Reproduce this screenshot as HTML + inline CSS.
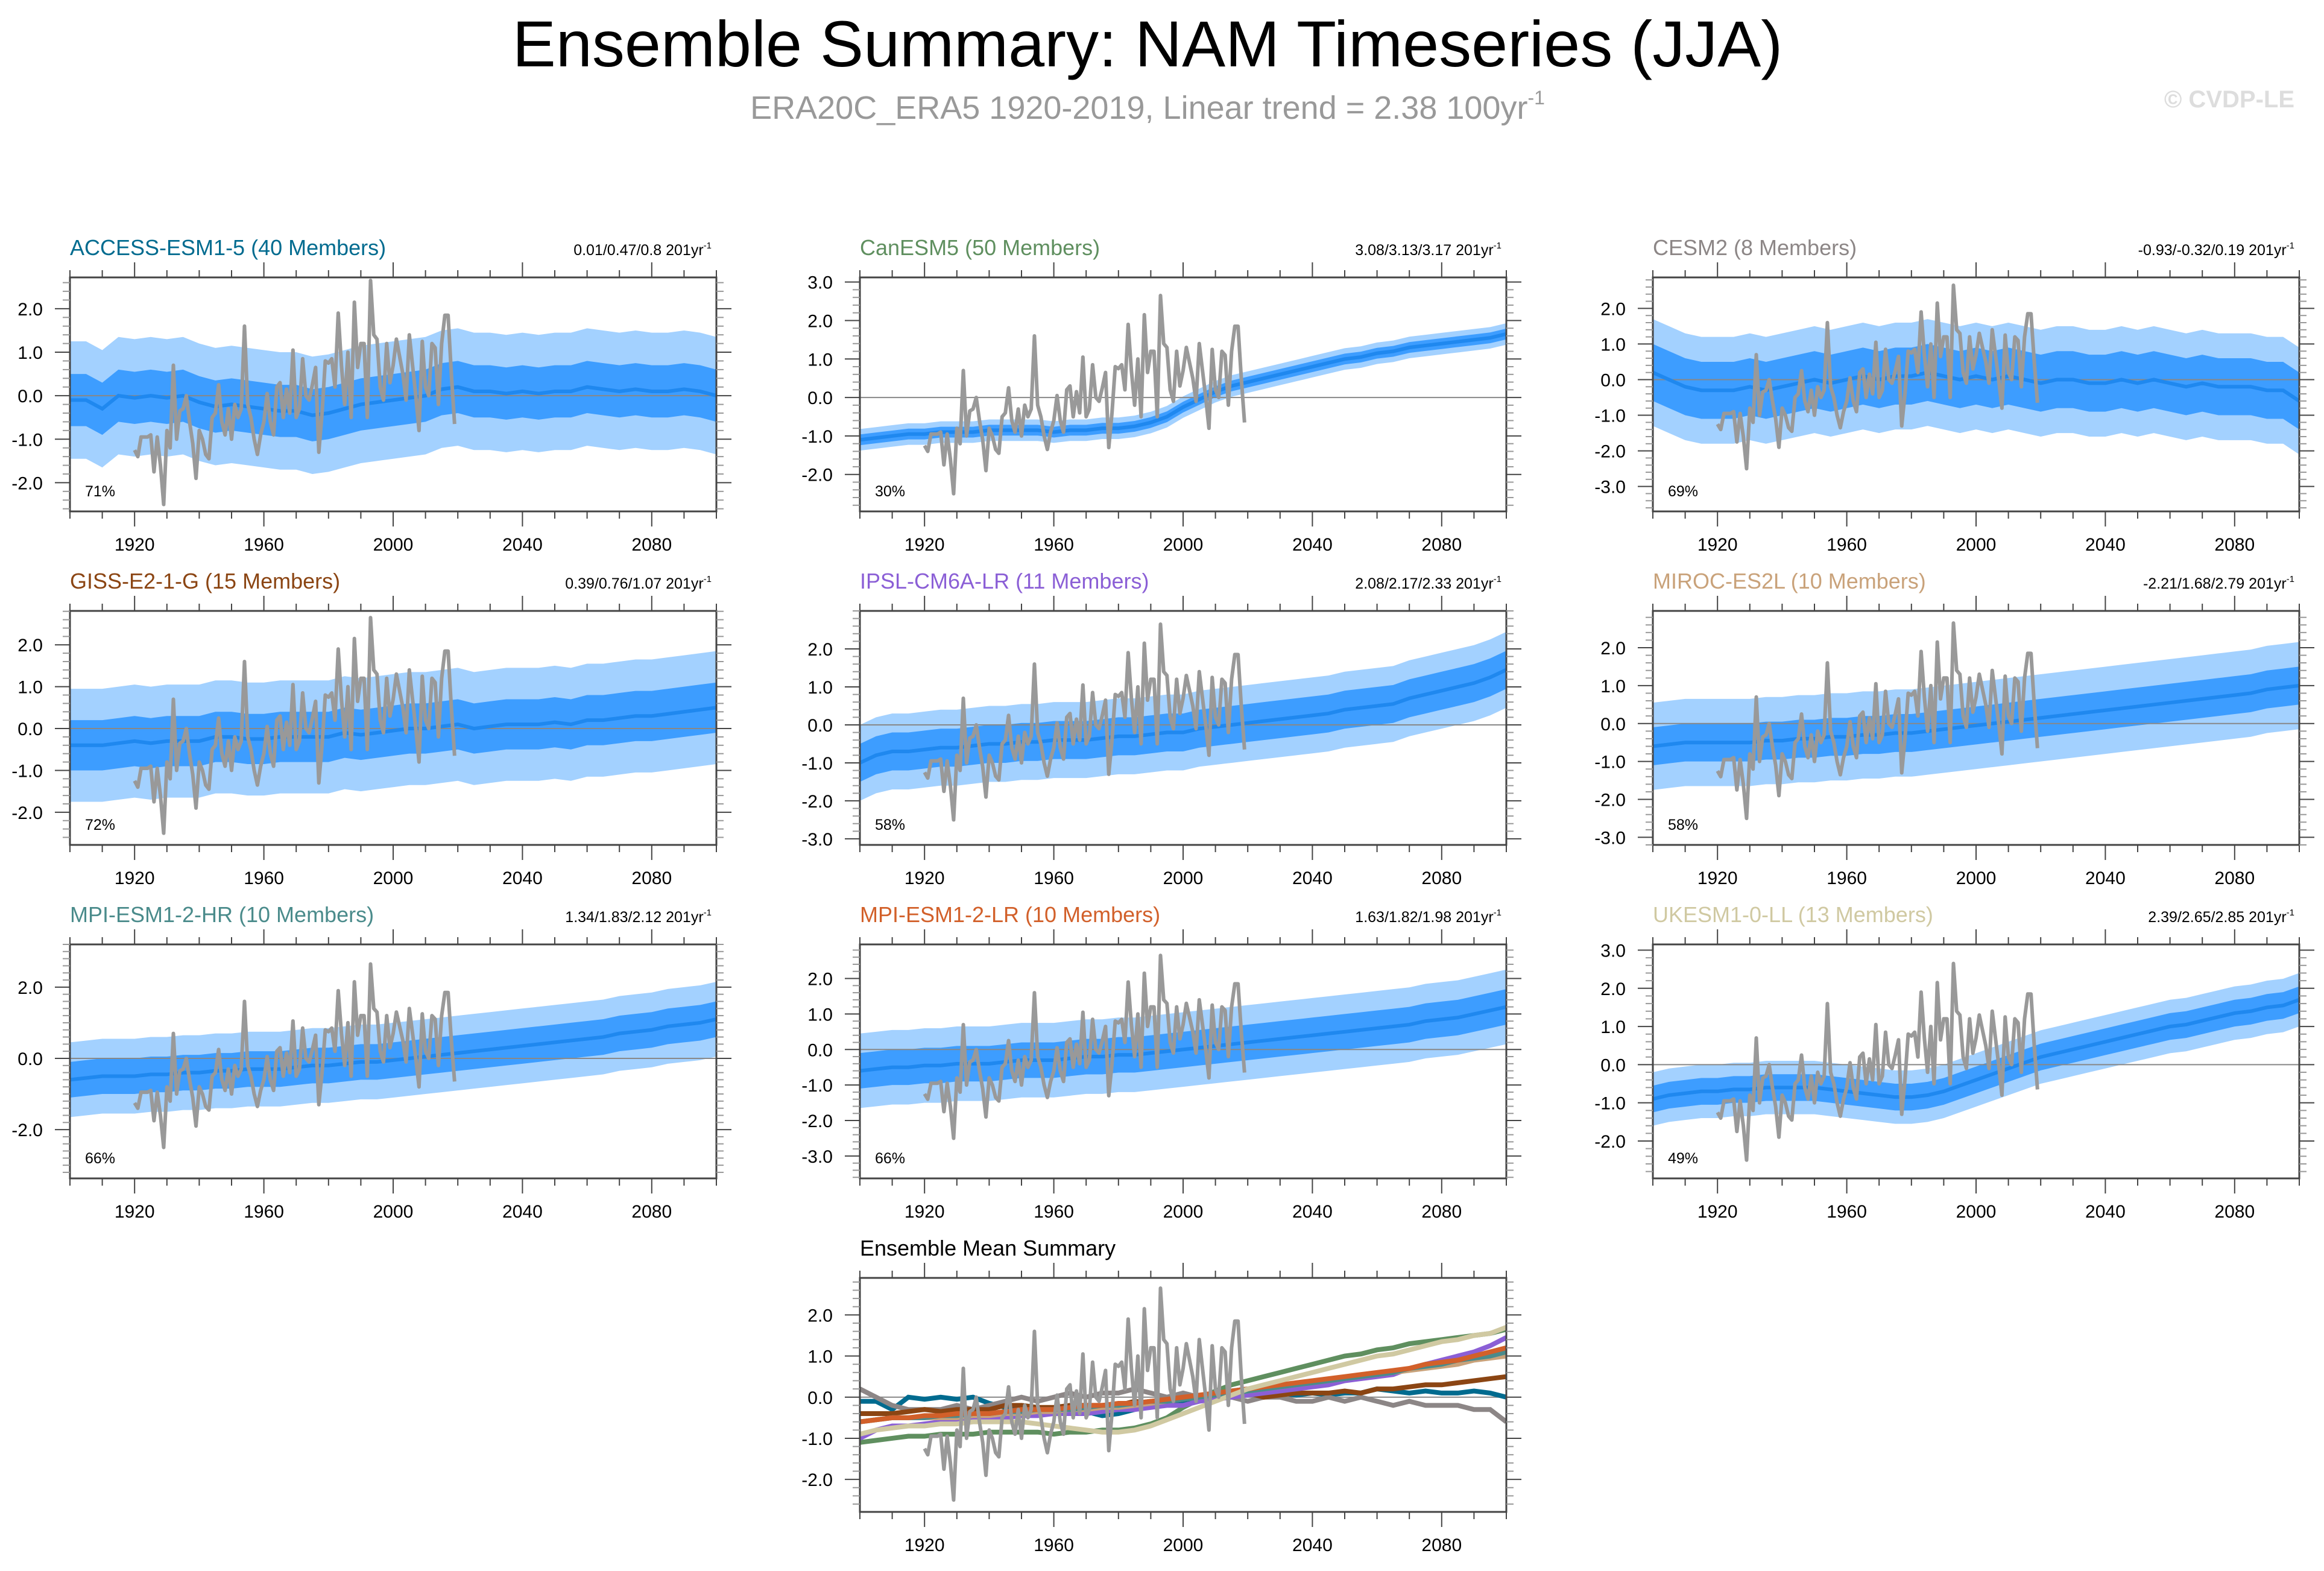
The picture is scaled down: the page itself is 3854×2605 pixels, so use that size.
<!DOCTYPE html>
<html><head><meta charset="utf-8">
<style>
html,body{margin:0;padding:0;background:#fff;}
svg{display:block;font-family:"Liberation Sans",sans-serif;}
</style></head>
<body>
<svg id="chart" width="3854" height="2605" viewBox="0 0 3854 2605" xmlns="http://www.w3.org/2000/svg">
<rect width="3854" height="2605" fill="#fff"/>
<text x="1903" y="110" font-size="108" text-anchor="middle" fill="#000">Ensemble Summary: NAM Timeseries (JJA)</text>
<text x="1903" y="197" font-size="54" text-anchor="middle" fill="#999">ERA20C_ERA5 1920-2019, Linear trend = 2.38 100yr<tspan font-size="32" dy="-24">-1</tspan></text>
<text x="3805" y="178" font-size="40" text-anchor="end" fill="#ddd" font-weight="bold">© CVDP-LE</text>
<g id="panels"></g>
</svg>
<script>
// ---------- data ----------
const obsYears0 = 1920;
const obsValues = [
-1.25,-1.4,-0.95,-0.95,-0.95,-0.9,-1.75,-0.95,-1.6,-2.5,
-0.8,-1.2,0.7,-1.0,-0.35,-0.3,0.0,-0.6,-1.1,-1.9,
-0.8,-1.0,-1.35,-1.45,-0.5,-0.4,0.25,-0.6,-0.9,-0.3,
-1.0,-0.2,-0.5,-0.3,1.6,-0.2,-0.5,-1.0,-1.35,-0.9,
-0.6,0.05,-0.6,-0.9,0.2,0.3,-0.5,0.15,-0.4,1.05,
-0.5,-0.3,0.85,0.0,-0.1,0.25,0.65,-1.3,-0.4,0.8,
0.75,0.85,0.2,1.9,0.7,-0.2,1.0,-0.5,2.15,0.65,
1.2,1.2,-0.5,2.65,1.4,1.3,0.2,-0.1,1.2,0.3,
0.7,1.3,0.9,0.5,-0.1,1.4,0.7,0.0,-0.8,1.25,
0.2,0.0,1.2,1.1,-0.2,1.2,1.85,1.85,0.5,-0.65];
const meanYearStart = 1900, meanYearStep = 5;
const modelNames = ["ACCESS-ESM1-5 (40 Members)","CanESM5 (50 Members)","CESM2 (8 Members)","GISS-E2-1-G (15 Members)","IPSL-CM6A-LR (11 Members)","MIROC-ES2L (10 Members)","MPI-ESM1-2-HR (10 Members)","MPI-ESM1-2-LR (10 Members)","UKESM1-0-LL (13 Members)"];
const trendLabels = ["0.01/0.47/0.8","3.08/3.13/3.17","-0.93/-0.32/0.19","0.39/0.76/1.07","2.08/2.17/2.33","-2.21/1.68/2.79","1.34/1.83/2.12","1.63/1.82/1.98","2.39/2.65/2.85"];
const pctLabels = ["71%","30%","69%","72%","58%","58%","66%","66%","49%"];
const innerSpread = [0.6,0.14,0.8,0.6,0.5,0.5,0.5,0.5,0.35];
const outerSpread = [1.35,0.28,1.5,1.35,1.0,1.15,1.05,1.05,0.7];
const meanAccess = [-0.1,-0.1,-0.3,0.0,-0.05,0.0,-0.05,0.0,-0.15,-0.25,-0.2,-0.25,-0.3,-0.35,-0.35,-0.45,-0.4,-0.3,-0.2,-0.15,-0.1,-0.05,0.0,0.15,0.2,0.1,0.1,0.05,0.1,0.05,0.1,0.1,0.2,0.15,0.1,0.15,0.1,0.1,0.15,0.1,0.0];
const meanCan = [-1.1,-1.05,-1.0,-0.95,-0.95,-0.9,-0.9,-0.9,-0.85,-0.85,-0.85,-0.85,-0.9,-0.85,-0.85,-0.8,-0.8,-0.75,-0.65,-0.5,-0.25,-0.05,0.15,0.3,0.4,0.5,0.6,0.7,0.8,0.9,1.0,1.05,1.15,1.2,1.3,1.35,1.4,1.45,1.5,1.55,1.65];
const meanCesm = [0.2,0.0,-0.2,-0.3,-0.3,-0.3,-0.2,-0.3,-0.2,-0.1,0.0,-0.1,0.0,0.1,0.0,0.1,0.1,0.2,0.1,0.0,0.1,0.0,0.1,0.0,-0.1,0.0,0.0,-0.1,-0.1,0.0,-0.1,0.0,-0.1,-0.2,-0.1,-0.2,-0.2,-0.2,-0.3,-0.3,-0.6];
const meanGiss = [-0.4,-0.4,-0.4,-0.35,-0.3,-0.35,-0.3,-0.3,-0.3,-0.2,-0.2,-0.25,-0.25,-0.2,-0.2,-0.2,-0.2,-0.1,-0.15,-0.1,-0.05,0.0,0.0,0.05,0.1,0.0,0.05,0.1,0.1,0.1,0.15,0.1,0.2,0.2,0.25,0.3,0.3,0.35,0.4,0.45,0.5];
const meanIpsl = [-1.0,-0.8,-0.7,-0.7,-0.65,-0.6,-0.6,-0.55,-0.5,-0.5,-0.45,-0.45,-0.4,-0.4,-0.4,-0.35,-0.3,-0.3,-0.25,-0.2,-0.2,-0.1,-0.05,0.0,0.05,0.1,0.15,0.2,0.25,0.3,0.4,0.45,0.5,0.55,0.7,0.8,0.9,1.0,1.1,1.25,1.45];
const meanMiroc = [-0.6,-0.55,-0.5,-0.5,-0.5,-0.5,-0.5,-0.45,-0.45,-0.4,-0.4,-0.35,-0.35,-0.3,-0.3,-0.25,-0.25,-0.2,-0.15,-0.1,-0.05,0.0,0.05,0.1,0.15,0.2,0.25,0.3,0.35,0.4,0.45,0.5,0.55,0.6,0.65,0.7,0.75,0.8,0.9,0.95,1.0];
const meanMpiHr = [-0.6,-0.55,-0.5,-0.5,-0.5,-0.45,-0.45,-0.4,-0.4,-0.35,-0.35,-0.3,-0.3,-0.3,-0.25,-0.2,-0.2,-0.15,-0.1,-0.1,-0.05,0.0,0.05,0.1,0.15,0.2,0.25,0.3,0.35,0.4,0.45,0.5,0.55,0.6,0.7,0.75,0.8,0.9,0.95,1.0,1.1];
const meanMpiLr = [-0.6,-0.55,-0.5,-0.5,-0.45,-0.45,-0.4,-0.4,-0.4,-0.35,-0.3,-0.3,-0.3,-0.25,-0.2,-0.2,-0.15,-0.15,-0.1,-0.05,0.0,0.05,0.1,0.15,0.2,0.25,0.3,0.35,0.4,0.45,0.5,0.55,0.6,0.65,0.7,0.8,0.85,0.9,1.0,1.1,1.2];
const meanUkesm = [-0.9,-0.8,-0.75,-0.7,-0.7,-0.65,-0.65,-0.6,-0.6,-0.6,-0.6,-0.65,-0.7,-0.75,-0.8,-0.85,-0.85,-0.8,-0.7,-0.55,-0.4,-0.25,-0.1,0.05,0.2,0.3,0.4,0.5,0.6,0.7,0.8,0.9,1.0,1.05,1.15,1.25,1.35,1.4,1.5,1.55,1.7];
const yTicksList = [[-2,-1,0,1,2],[-2,-1,0,1,2,3],[-3,-2,-1,0,1,2],[-2,-1,0,1,2],[-3,-2,-1,0,1,2],[-3,-2,-1,0,1,2],[-2,0,2],[-3,-2,-1,0,1,2],[-2,-1,0,1,2,3],[-2,-1,0,1,2]];
const yRanges = [[-2.66,2.72],[-2.96,3.12],[-3.7,2.87],[-2.78,2.81],[-3.16,3.0],[-3.2,2.97],[-3.37,3.2],[-3.63,2.96],[-2.98,3.15],[-2.79,2.9]];
const xTickLabels = [1920,1960,2000,2040,2080];
// ---------- layout ----------
const means = [meanAccess,meanCan,meanCesm,meanGiss,meanIpsl,meanMiroc,meanMpiHr,meanMpiLr,meanUkesm];
const titleColors = ["#006b8f","#5f8f5f","#8c8686","#8b4513","#8b5fd6","#c9a27a","#4a8b8b","#d2602a","#d0c9a2"];
const colX = [116,1426,2741], rowY = [460,1013,1566,2119], PW = 1072, PH = 388;
const NS = "http://www.w3.org/2000/svg";
const root = document.getElementById('panels');
function el(tag, attrs, parent){const e=document.createElementNS(NS,tag);for(const k in attrs)e.setAttribute(k,attrs[k]);(parent||root).appendChild(e);return e;}
function makePanel(idx, x0, y0){
  const [ymin,ymax]=yRanges[idx];
  const X=yr=>x0+(yr-1900)/200*PW;
  const Y=v=>y0+(ymax-v)/(ymax-ymin)*PH;
  const g=el('g',{});
  
  
  const cid='clip'+idx;
  const cp=el('clipPath',{id:cid},g);el('rect',{x:x0,y:y0,width:PW,height:PH},cp);
  const plot=el('g',{'clip-path':'url(#'+cid+')'},g);
  const mx=i=>X(meanYearStart+i*meanYearStep);
  if(idx<9){
    const m=means[idx];
    const band=(w)=>{let up=m.map((v,i)=>mx(i)+','+Y(v+w)).join(' ');let dn=m.map((v,i)=>mx(i)+','+Y(v-w)).reverse().join(' ');return up+' '+dn;};
    const ob=el('polygon',{points:band(outerSpread[idx]),fill:'#a3d1ff'},plot);
    
    
    const ib=el('polygon',{points:band(innerSpread[idx]),fill:'#3d9dff'},plot);
    
    
    const zl=el('line',{x1:x0,x2:x0+PW,y1:Y(0),y2:Y(0),stroke:'#888','stroke-width':2},plot);
    
    
    const ml=el('polyline',{points:m.map((v,i)=>mx(i)+','+Y(v)).join(' '),fill:'none',stroke:'#1f88ef','stroke-width':6},plot);
    
    
  } else {
    const zl=el('line',{x1:x0,x2:x0+PW,y1:Y(0),y2:Y(0),stroke:'#888','stroke-width':2},plot);
    
    
    means.forEach((m,k)=>{
      const l=el('polyline',{points:m.map((v,i)=>mx(i)+','+Y(v)).join(' '),fill:'none',stroke:titleColors[k],'stroke-width':8},plot);
      
      
    });
  }
  const obl=el('polyline',{points:obsValues.map((v,i)=>X(obsYears0+i)+','+Y(v)).join(' '),fill:'none',stroke:'#999','stroke-width':6,'stroke-linejoin':'round'},plot);
  
  
  el('rect',{x:x0,y:y0,width:PW,height:PH,fill:'none',stroke:'#444','stroke-width':3},g);
  for(let yr=1900;yr<=2100;yr+=10){
    const major=xTickLabels.includes(yr), L=major?25:12, xx=X(yr);
    el('line',{x1:xx,x2:xx,y1:y0,y2:y0-L,stroke:'#444','stroke-width':2},g);
    el('line',{x1:xx,x2:xx,y1:y0+PH,y2:y0+PH+L,stroke:'#444','stroke-width':2},g);
  }
  xTickLabels.forEach(yr=>{const t=el('text',{x:X(yr),y:y0+PH+65,'font-size':30,'text-anchor':'middle',fill:'#000'},g);t.textContent=yr;
    
    });
  for(let v=Math.ceil(ymin*5)/5;v<=ymax+1e-9;v+=0.2){
    const vv=Math.round(v*10)/10, major=yTicksList[idx].includes(vv), L=major?25:12;
    el('line',{x1:x0,x2:x0-L,y1:Y(vv),y2:Y(vv),stroke:major?'#444':'#999','stroke-width':2},g);
    el('line',{x1:x0+PW,x2:x0+PW+L,y1:Y(vv),y2:Y(vv),stroke:major?'#444':'#999','stroke-width':2},g);
  }
  yTicksList[idx].forEach(v=>{const t=el('text',{x:x0-45,y:Y(v)+11,'font-size':30,'text-anchor':'end',fill:'#000'},g);t.textContent=v.toFixed(1);
    
    });
  const tt=el('text',{x:x0,y:y0-37,'font-size':36,fill:idx<9?titleColors[idx]:'#000'},g);
  tt.textContent=idx<9?modelNames[idx]:'Ensemble Mean Summary';
  
  
  if(idx<9){
    const tr=el('text',{x:x0+PW-8,y:y0-37,'font-size':25,'text-anchor':'end',fill:'#000'},g);
    tr.textContent=trendLabels[idx]+' 201yr';
    const sup=el('tspan',{'font-size':15,dy:-11},tr);sup.textContent='-1';
    
    
    const pc=el('text',{x:x0+25,y:y0+PH-25,'font-size':25,fill:'#000'},g);pc.textContent=pctLabels[idx];
    
    
  }
}
for(let i=0;i<9;i++) makePanel(i,colX[i%3],rowY[Math.floor(i/3)]);
makePanel(9,colX[1],rowY[3]);
</script>
</body></html>
